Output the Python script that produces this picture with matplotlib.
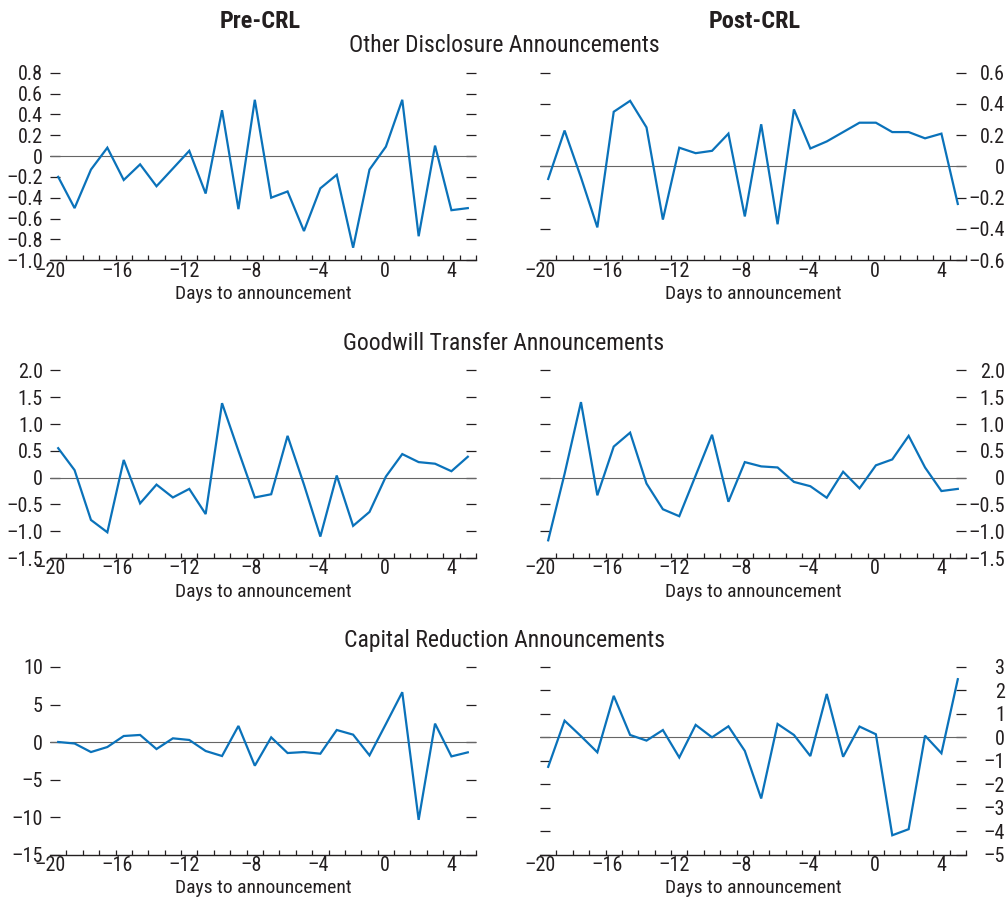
import numpy as np
import matplotlib
matplotlib.use("Agg")
import matplotlib.pyplot as plt
from matplotlib import font_manager
from matplotlib.ticker import FixedLocator, FuncFormatter

# condensed face if we have one, plain sans scaled down otherwise
_installed = {f.name for f in font_manager.fontManager.ttflist}
if "Roboto Condensed" in _installed:
    plt.rcParams['font.family'] = ['Roboto Condensed', 'DejaVu Sans']
    fs = 1.0
else:
    plt.rcParams['font.family'] = ['Liberation Sans', 'DejaVu Sans']
    fs = 0.88

DASH = "\u2013"

days = np.arange(-20, 6)

# abnormal returns by announcement type, before and after the CRL
other_pre = [-0.20, -0.50, -0.13, 0.08, -0.23, -0.08, -0.29, -0.12, 0.05, -0.36,
             0.44, -0.51, 0.54, -0.40, -0.34, -0.72, -0.31, -0.18, -0.88, -0.13,
             0.09, 0.54, -0.77, 0.10, -0.52, -0.50]
other_post = [-0.08, 0.23, -0.07, -0.39, 0.35, 0.42, 0.25, -0.34, 0.12, 0.085,
              0.10, 0.21, -0.32, 0.27, -0.37, 0.365, 0.115, 0.16, 0.22, 0.28,
              0.28, 0.22, 0.22, 0.18, 0.21, -0.24]
goodwill_pre = [0.55, 0.14, -0.79, -1.02, 0.33, -0.48, -0.13, -0.37, -0.21, -0.68,
                1.39, 0.50, -0.37, -0.31, 0.78, -0.13, -1.10, 0.04, -0.90, -0.64,
                0.02, 0.44, 0.29, 0.26, 0.12, 0.39]
goodwill_post = [-1.17, 0.07, 1.41, -0.33, 0.58, 0.84, -0.11, -0.59, -0.72, 0.04,
                 0.80, -0.45, 0.29, 0.21, 0.19, -0.08, -0.16, -0.375, 0.11, -0.20,
                 0.23, 0.34, 0.78, 0.19, -0.25, -0.21]
capital_pre = [0.0, -0.2, -1.34, -0.67, 0.80, 0.94, -0.94, 0.49, 0.27, -1.20,
               -1.87, 2.14, -3.16, 0.62, -1.47, -1.34, -1.56, 1.60, 0.98, -1.78,
               2.40, 6.64, -10.38, 2.45, -1.92, -1.38]
capital_post = [-1.26, 0.71, 0.05, -0.64, 1.77, 0.10, -0.14, 0.31, -0.86, 0.53,
                0.0, 0.47, -0.58, -2.61, 0.57, 0.10, -0.80, 1.85, -0.83, 0.46,
                0.13, -4.18, -3.92, 0.07, -0.68, 2.48]

row_titles = ["Other Disclosure Announcements",
              "Goodwill Transfer Announcements",
              "Capital Reduction Announcements"]
col_titles = ["Pre-CRL", "Post-CRL"]
xtick_values = [-20, -16, -12, -8, -4, 0, 4]

panels = [
    [(other_pre, (-1.0, 0.8), 0.2, 1), (other_post, (-0.6, 0.6), 0.2, 1)],
    [(goodwill_pre, (-1.5, 2.0), 0.5, 1), (goodwill_post, (-1.5, 2.0), 0.5, 1)],
    [(capital_pre, (-15, 10), 5, 0), (capital_post, (-5, 3), 1, 0)],
]

line_color = "#0a72ba"
text_color = "#231f20"


def tick_fmt(decimals):
    def f(v, pos):
        if abs(v) < 1e-9:
            return "0"
        return f"{v:.{decimals}f}".replace("-", DASH)
    return f


W, H = 1008, 905
fig = plt.figure(figsize=(W / 100, H / 100), dpi=100)

col_x = [50, 540]
row_top = [72.7, 370.5, 667.0]
ax_w, ax_h = 426, 187.5

for r in range(3):
    for c in range(2):
        vals, (ylo, yhi), step, dec = panels[r][c]
        ax = fig.add_axes([col_x[c] / W, (H - row_top[r] - ax_h) / H, ax_w / W, ax_h / H])
        ax.plot(days, vals, color=line_color, lw=1.6, solid_joinstyle='miter', zorder=3)
        ax.axhline(0, color="#666666", lw=0.8, zorder=2)

        ax.set_xlim(-20.5, 5.5)
        ax.set_ylim(ylo, yhi)
        for s in ["left", "right", "top"]:
            ax.spines[s].set_visible(False)
        ax.spines["bottom"].set_color(text_color)
        ax.spines["bottom"].set_linewidth(1.0)

        # category boundaries carry the small ticks, labels sit between them
        ax.xaxis.set_minor_locator(FixedLocator(np.arange(-20.5, 6, 1)))
        lab_pos = [-20.5 + (v + 20) * 24.5 / 24 for v in xtick_values]
        ax.set_xticks(lab_pos)
        ax.set_xticklabels([str(v).replace("-", DASH) for v in xtick_values])
        ax.tick_params(axis="x", which="major", length=0, pad=1, labelsize=14.5 * fs,
                       labelcolor=text_color)
        ax.tick_params(axis="x", which="minor", direction="in", length=3.5,
                       width=0.9, color=text_color)

        yt = np.arange(ylo, yhi + step / 2, step)
        ax.yaxis.set_major_locator(FixedLocator(yt))
        ax.yaxis.set_major_formatter(FuncFormatter(tick_fmt(dec)))
        ax.tick_params(axis="y", direction="in", length=7.5, width=0.9,
                       color=text_color, left=True, right=True, labelsize=14.5 * fs,
                       labelcolor=text_color,
                       labelleft=(c == 0), labelright=(c == 1),
                       pad=5 if c == 0 else 28)
        if c == 1:
            for t in ax.yaxis.get_major_ticks():
                t.label2.set_horizontalalignment("right")
        ax.set_xlabel("Days to announcement", fontsize=14 * fs, color=text_color,
                      labelpad=3)
        ax.set_facecolor("none")

    fig.text(504 / W, 1 - (row_top[r] - 27) / H, row_titles[r], ha="center",
             va="center", fontsize=17 * fs, color=text_color)

for c, t in enumerate(col_titles):
    fig.text([260, 755][c] / W, 1 - 21 / H, t, ha="center", va="center",
             fontsize=17.5 * fs, fontweight="bold", color=text_color)

fig.savefig("out.png", dpi=100)
